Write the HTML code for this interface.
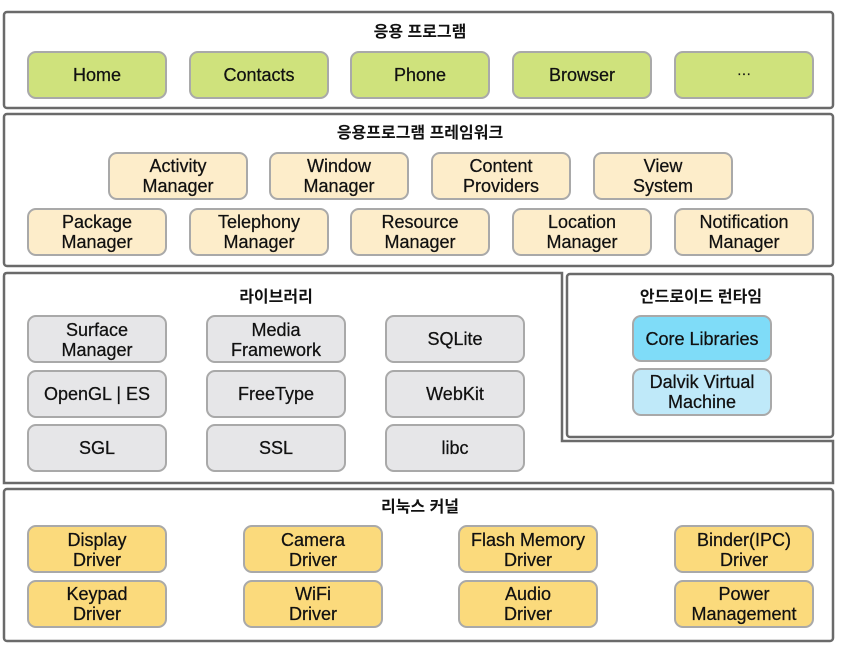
<!DOCTYPE html>
<html><head><meta charset="utf-8"><style>
html,body{margin:0;padding:0;background:#fff;}
svg{display:block;}
text{font-family:"Liberation Sans","Noto Sans CJK KR",sans-serif;font-size:18px;fill:#111;text-anchor:middle;stroke:#111;stroke-width:0.25;}
.t{font-weight:bold;font-size:16px;stroke-width:0;}
.p{fill:#fff;stroke:#6a6a6a;stroke-width:2.5;}
.b{stroke:#a9a9a9;stroke-width:2;}
.g{fill:#cfe27c;}.y{fill:#fdedca;}.s{fill:#e6e6e8;}.c{fill:#7fdcf8;}.lc{fill:#bfe9f9;}.k{fill:#fbda7c;}
</style></head><body>
<svg width="842" height="652" viewBox="0 0 842 652">
<rect class="p" x="4" y="12" width="829" height="96" rx="3"/>
<text class="t" x="420" y="37">응용 프로그램</text>
<g>
<rect class="b g" x="28" y="52" width="138" height="46" rx="8"/><text x="97" y="81">Home</text>
<rect class="b g" x="190" y="52" width="138" height="46" rx="8"/><text x="259" y="81">Contacts</text>
<rect class="b g" x="351" y="52" width="138" height="46" rx="8"/><text x="420" y="81">Phone</text>
<rect class="b g" x="513" y="52" width="138" height="46" rx="8"/><text x="582" y="81">Browser</text>
<rect class="b g" x="675" y="52" width="138" height="46" rx="8"/><text x="744" y="78" style="font-size:14px">···</text>
</g>
<rect class="p" x="4" y="114" width="829" height="152" rx="3"/>
<text class="t" x="420" y="138">응용프로그램 프레임워크</text>
<g>
<rect class="b y" x="109" y="153" width="138" height="46" rx="8"/><text x="178" y="172">Activity</text><text x="178" y="192">Manager</text>
<rect class="b y" x="270" y="153" width="138" height="46" rx="8"/><text x="339" y="172">Window</text><text x="339" y="192">Manager</text>
<rect class="b y" x="432" y="153" width="138" height="46" rx="8"/><text x="501" y="172">Content</text><text x="501" y="192">Providers</text>
<rect class="b y" x="594" y="153" width="138" height="46" rx="8"/><text x="663" y="172">View</text><text x="663" y="192">System</text>
<rect class="b y" x="28" y="209" width="138" height="46" rx="8"/><text x="97" y="228">Package</text><text x="97" y="248">Manager</text>
<rect class="b y" x="190" y="209" width="138" height="46" rx="8"/><text x="259" y="228">Telephony</text><text x="259" y="248">Manager</text>
<rect class="b y" x="351" y="209" width="138" height="46" rx="8"/><text x="420" y="228">Resource</text><text x="420" y="248">Manager</text>
<rect class="b y" x="513" y="209" width="138" height="46" rx="8"/><text x="582" y="228">Location</text><text x="582" y="248">Manager</text>
<rect class="b y" x="675" y="209" width="138" height="46" rx="8"/><text x="744" y="228">Notification</text><text x="744" y="248">Manager</text>
</g>
<path class="p" d="M7,273 L562,273 L562,441 L833,441 L833,483 L4,483 L4,276 Q4,273 7,273 Z"/>
<text class="t" x="276" y="302">라이브러리</text>
<g>
<rect class="b s" x="28" y="316" width="138" height="46" rx="8"/><text x="97" y="336">Surface</text><text x="97" y="356">Manager</text>
<rect class="b s" x="207" y="316" width="138" height="46" rx="8"/><text x="276" y="336">Media</text><text x="276" y="356">Framework</text>
<rect class="b s" x="386" y="316" width="138" height="46" rx="8"/><text x="455" y="345">SQLite</text>
<rect class="b s" x="28" y="371" width="138" height="46" rx="8"/><text x="97" y="400">OpenGL | ES</text>
<rect class="b s" x="207" y="371" width="138" height="46" rx="8"/><text x="276" y="400">FreeType</text>
<rect class="b s" x="386" y="371" width="138" height="46" rx="8"/><text x="455" y="400">WebKit</text>
<rect class="b s" x="28" y="425" width="138" height="46" rx="8"/><text x="97" y="454">SGL</text>
<rect class="b s" x="207" y="425" width="138" height="46" rx="8"/><text x="276" y="454">SSL</text>
<rect class="b s" x="386" y="425" width="138" height="46" rx="8"/><text x="455" y="454">libc</text>
</g>
<rect class="p" x="567" y="274" width="266" height="163" rx="3"/>
<text class="t" x="701" y="302">안드로이드 런타임</text>
<rect class="b c" x="633" y="316" width="138" height="45" rx="8"/><text x="702" y="345">Core Libraries</text>
<rect class="b lc" x="633" y="369" width="138" height="46" rx="8"/><text x="702" y="388">Dalvik Virtual</text><text x="702" y="408">Machine</text>
<rect class="p" x="4" y="489" width="829" height="152" rx="3"/>
<text class="t" x="420" y="512">리눅스 커널</text>
<g>
<rect class="b k" x="28" y="526" width="138" height="46" rx="8"/><text x="97" y="546">Display</text><text x="97" y="566">Driver</text>
<rect class="b k" x="244" y="526" width="138" height="46" rx="8"/><text x="313" y="546">Camera</text><text x="313" y="566">Driver</text>
<rect class="b k" x="459" y="526" width="138" height="46" rx="8"/><text x="528" y="546">Flash Memory</text><text x="528" y="566">Driver</text>
<rect class="b k" x="675" y="526" width="138" height="46" rx="8"/><text x="744" y="546">Binder(IPC)</text><text x="744" y="566">Driver</text>
<rect class="b k" x="28" y="581" width="138" height="46" rx="8"/><text x="97" y="600">Keypad</text><text x="97" y="620">Driver</text>
<rect class="b k" x="244" y="581" width="138" height="46" rx="8"/><text x="313" y="600">WiFi</text><text x="313" y="620">Driver</text>
<rect class="b k" x="459" y="581" width="138" height="46" rx="8"/><text x="528" y="600">Audio</text><text x="528" y="620">Driver</text>
<rect class="b k" x="675" y="581" width="138" height="46" rx="8"/><text x="744" y="600">Power</text><text x="744" y="620">Management</text>
</g>
</svg>
</body></html>
